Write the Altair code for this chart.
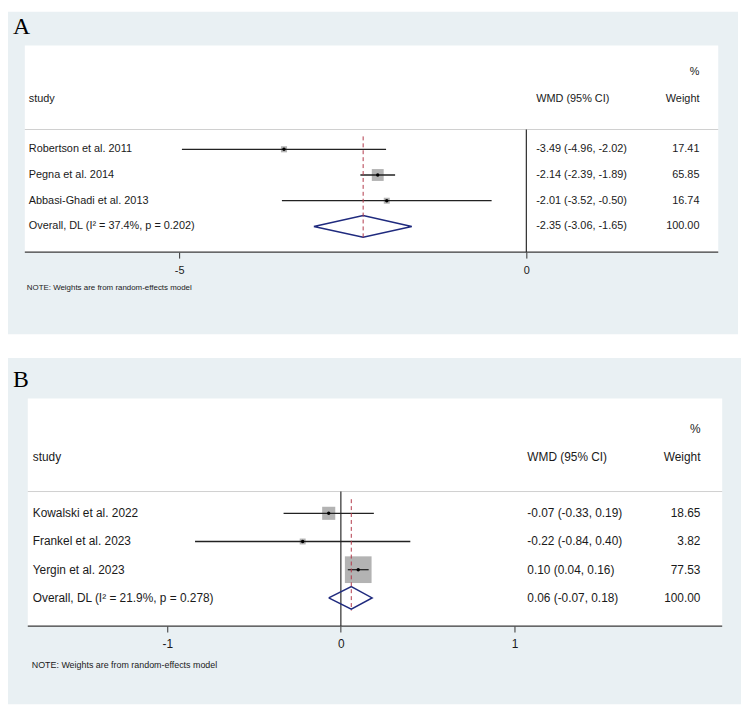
import altair as alt
import pandas as pd

# ---------------- data ----------------
A_studies = ["Robertson et al. 2011", "Pegna et al. 2014", "Abbasi-Ghadi et al. 2013"]
A_est = [-3.49, -2.14, -2.01]
A_lo = [-4.96, -2.39, -3.52]
A_hi = [-2.02, -1.89, -0.50]
A_weight = [17.41, 65.85, 16.74]
A_overall = [-2.35, -3.06, -1.65]
A_overall_label = "Overall, DL (I² = 37.4%, p = 0.202)"
A_ticks = [-5, 0]

B_studies = ["Kowalski et al. 2022", "Frankel et al. 2023", "Yergin et al. 2023"]
B_est = [-0.07, -0.22, 0.10]
B_lo = [-0.33, -0.84, 0.04]
B_hi = [0.19, 0.40, 0.16]
B_weight = [18.65, 3.82, 77.53]
B_overall = [0.06, -0.07, 0.18]
B_overall_label = "Overall, DL (I² = 21.9%, p = 0.278)"
B_ticks = [-1, 0, 1]

HEAD_STUDY = "study"
HEAD_EFFECT = "WMD (95% CI)"
HEAD_PCT = "%"
HEAD_WEIGHT = "Weight"
NOTE = "NOTE: Weights are from random-effects model"

FONT = "Liberation Sans"
SERIF = "Liberation Serif"
BG = "#e9f0f3"
TXT = "#1a1a1a"
NAVY = "#1f2a7e"
RED = "#b23a4a"
BOX = "#b3b3b3"


def fmt(v):
    return f"{v:.2f}"


def panel(letter, studies, est, lo, hi, weight, overall, overall_label, ticks, g):
    n = len(studies)
    rows = pd.DataFrame({"study": studies, "est": est, "lo": lo, "hi": hi,
                         "w": weight, "row": list(range(n))})
    oe, ol, oh = overall
    table = pd.DataFrame({
        "label": studies + [overall_label],
        "wmd": [f"{fmt(e)} ({fmt(l)}, {fmt(h)})"
                for e, l, h in zip(est + [oe], lo + [ol], hi + [oh])],
        "wt": [fmt(w) for w in weight] + [fmt(100)],
        "row": list(range(n + 1)),
    })
    dh = g["dh"]
    diamond = pd.DataFrame({"x": [ol, oe, oh, oe, ol],
                            "row": [n, n - dh, n, n + dh, n],
                            "k": [0, 1, 2, 3, 4]})
    refl = pd.DataFrame({"x": [oe], "r1": [-0.5], "r2": [n + 0.45]})
    zero = pd.DataFrame({"x": [0]})
    one = pd.DataFrame({"a": [0]})

    W, H = g["W"], g["H"]
    xs = alt.Scale(domain=[-g["x0"] / g["pxu"], (W - g["x0"]) / g["pxu"]],
                   nice=False, zero=False)
    ys = alt.Scale(domain=[-g["r0"] / g["rowh"], (H - g["r0"]) / g["rowh"]],
                   nice=False, zero=False, reverse=True)
    ax = alt.Axis(values=ticks, offset=g["axis_y"] - H, domain=False, grid=False,
                  tickSize=6, tickColor="#333333", tickWidth=1,
                  labelFont=FONT, labelFontSize=g["fs"], labelColor=TXT,
                  labelPadding=7, title=None, labelFlush=False,
                  labelOverlap=False, labelExpr="'' + datum.value")

    def X(f):
        return alt.X(f, type="quantitative", scale=xs, axis=ax)

    def Y(f):
        return alt.Y(f, type="quantitative", scale=ys, axis=None)

    fs = g["fs"]
    white = alt.Chart(one).mark_rect(color="white").encode(
        x=alt.value(g["wx1"]), x2=alt.value(g["wx2"]),
        y=alt.value(g["wy1"]), y2=alt.value(g["axis_y"]))
    sep = alt.Chart(one).mark_rule(color="#cfcfcf", strokeWidth=1).encode(
        x=alt.value(g["wx1"]), x2=alt.value(g["wx2"]), y=alt.value(g["sep_y"]))
    axline = alt.Chart(one).mark_rule(color="#3a3a3a", strokeWidth=1.2).encode(
        x=alt.value(g["wx1"]), x2=alt.value(g["wx2"]), y=alt.value(g["axis_y"]))
    zline = alt.Chart(zero).mark_rule(color="#2a2a2a", strokeWidth=1.2).encode(
        x=X("x"), y=alt.value(g["sep_y"]), y2=alt.value(g["axis_y"]))
    boxes = alt.Chart(rows).mark_square(color=BOX, opacity=1).encode(
        x=X("est"), y=Y("row"),
        size=alt.Size("w:Q", scale=alt.Scale(domain=[0, 100], range=[0, g["K"]]),
                      legend=None))
    ci = alt.Chart(rows).mark_rule(color="#222222", strokeWidth=1.3).encode(
        x=X("lo"), x2="hi", y=Y("row"))
    dots = alt.Chart(rows).mark_circle(color="black", opacity=1, size=12).encode(
        x=X("est"), y=Y("row"))
    dia = alt.Chart(diamond).mark_line(color=NAVY, strokeWidth=1.5).encode(
        x=X("x"), y=Y("row"), order="k:Q")
    rl = alt.Chart(refl).mark_rule(color=RED, strokeWidth=1, strokeDash=[4, 3]).encode(
        x=X("x"), y=Y("r1"), y2="r2")

    tbase = alt.Chart(table)
    lab = tbase.mark_text(font=FONT, fontSize=fs, align="left", baseline="middle",
                          color=TXT).encode(x=alt.value(g["study_x"]), y=Y("row"),
                                            text="label:N")
    wmd = tbase.mark_text(font=FONT, fontSize=fs, align="left", baseline="middle",
                          color=TXT).encode(x=alt.value(g["wmd_x"]), y=Y("row"),
                                            text="wmd:N")
    wt = tbase.mark_text(font=FONT, fontSize=fs, align="right", baseline="middle",
                         color=TXT).encode(x=alt.value(g["wt_x"]), y=Y("row"),
                                           text="wt:N")

    def label(txt, x, y, align="left", size=None, font=FONT, baseline="middle"):
        return alt.Chart(one).mark_text(text=txt, font=font, fontSize=size or fs,
                                        align=align, baseline=baseline,
                                        color=TXT).encode(x=alt.value(x), y=alt.value(y))

    h1 = label(HEAD_PCT, g["wt_x"], g["pct_y"], align="right")
    h2 = label(HEAD_STUDY, g["study_x"], g["head_y"])
    h3 = label(HEAD_EFFECT, g["wmd_x"], g["head_y"])
    h4 = label(HEAD_WEIGHT, g["wt_x"], g["head_y"], align="right")
    note = label(NOTE, g["note_x"], g["note_y"], size=g["note_fs"])
    let = alt.Chart(one).mark_text(text=letter, font=SERIF, fontSize=24, align="left",
                                   baseline="alphabetic", color="black").encode(
        x=alt.value(5), y=alt.value(g["let_y"]))

    return alt.layer(white, sep, axline, zline, boxes, ci, dots, dia, rl,
                     lab, wmd, wt, h1, h2, h3, h4, note, let).properties(
        width=W, height=H)


gA = dict(W=738, H=326, x0=524, pxu=70.2, r0=139, rowh=26,
          wx1=17, wx2=718, wy1=34, sep_y=119, axis_y=243,
          pct_y=61, head_y=88, study_x=21, wmd_x=534, wt_x=699,
          note_x=19, note_y=279, let_y=22, fs=11, note_fs=8, K=219, dh=0.42)
gB = dict(W=741, H=350, x0=336.5, pxu=175.5, r0=157, rowh=28.5,
          wx1=20, wx2=722, wy1=41, sep_y=135, axis_y=271,
          pct_y=72, head_y=100, study_x=25, wmd_x=525, wt_x=700,
          note_x=24, note_y=310, let_y=29, fs=12, note_fs=9, K=940, dh=0.40)

pA = panel("A", A_studies, A_est, A_lo, A_hi, A_weight, A_overall,
           A_overall_label, A_ticks, gA)
pB = panel("B", B_studies, B_est, B_lo, B_hi, B_weight, B_overall,
           B_overall_label, B_ticks, gB)

chart = alt.vconcat(pA, pB, spacing=24).resolve_scale(
    size="independent", x="independent", y="independent"
).properties(
    padding=0, background="white"
).configure_view(fill=BG, stroke=None)

chart.save("out.html", embed_options={"renderer": "svg", "actions": False})
